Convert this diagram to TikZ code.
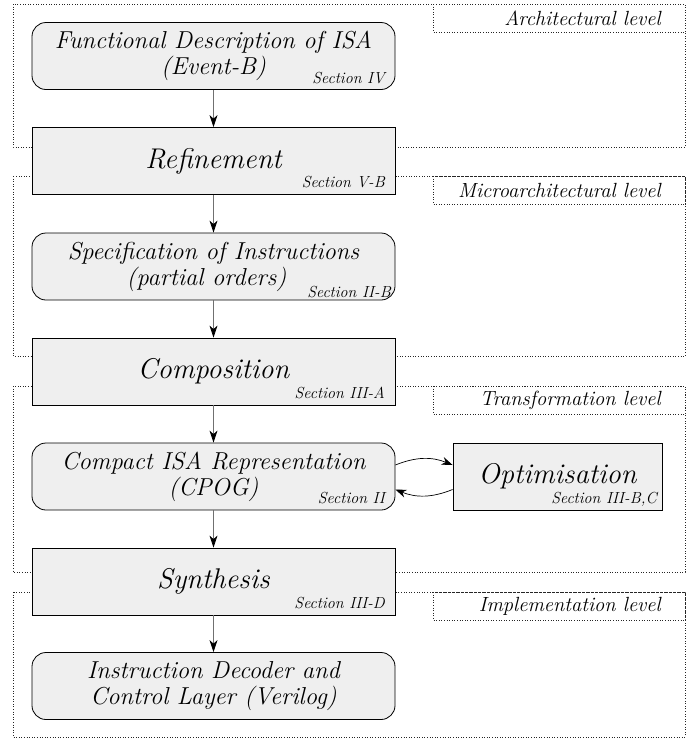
\documentclass[tikz,border=0pt]{standalone}
\usetikzlibrary{arrows.meta}
\definecolor{boxgray}{HTML}{EFEFEF}
\definecolor{flowgray}{HTML}{707070}
\begin{document}
\begin{tikzpicture}[x=1pt,y=-1pt,
  stage/.style={draw=black, fill=boxgray, line width=0.8pt,
    minimum width=363pt, minimum height=67pt, inner sep=0pt,
    align=center, font=\fontsize{24.5}{26}\selectfont\itshape},
  rstage/.style={stage, rounded corners=14pt},
  bigstage/.style={stage, font=\fontsize{28.5}{30}\selectfont\itshape},
  sec/.style={anchor=base east, inner sep=0pt,
    font=\fontsize{16}{18}\selectfont\itshape},
  frame/.style={draw=black!85, dotted, line width=0.6pt},
  lvl/.style={anchor=east, inner sep=0pt,
    font=\fontsize{20.5}{23}\selectfont\itshape},
  flow/.style={draw=flowgray, line width=0.9pt,
    -{Stealth[length=12pt,width=8pt,inset=3.5pt,color=black]}},
  cycle/.style={draw=black, line width=0.7pt,
    -{Stealth[length=11pt,width=8pt,inset=3.5pt]}}]
\useasboundingbox (0,0) rectangle (697,740);

% dotted level frames with their caption boxes
\draw[frame] (13,4) rectangle (685,147);
\draw[frame] (13,176) rectangle (685,356);
\draw[frame] (13,386) rectangle (685,572);
\draw[frame] (13,592) rectangle (685,737);
\draw[frame] (433,4) rectangle (685,32);
\draw[frame] (433,176) rectangle (685,204);
\draw[frame] (433,386) rectangle (685,414);
\draw[frame] (433,592) rectangle (685,620);
\node[lvl] (archlvl)  at (661,18)  {Architectural level};
\node[lvl] (microlvl) at (661,190) {Microarchitectural level};
\node[lvl] (translvl) at (661,400) {Transformation level};
\node[lvl] (impllvl)  at (661,606) {Implementation level};

% design flow stages
\node[rstage] (func) at (213.5,56)
  {Functional Description of ISA\\(Event-B)};
\node[bigstage] (refine) at (213.5,161) {Refinement};
\node[rstage] (spec) at (213.5,266.5)
  {Specification of Instructions\\(partial orders)\hspace*{14pt}};
\node[bigstage] (compose) at (213.5,371.5) {Composition};
\node[rstage] (cpog) at (213.5,476.5)
  {Compact ISA Representation\\(CPOG)};
\node[bigstage, minimum width=209pt] (opt) at (557.5,476.5) {Optimisation};
\node[bigstage] (synth) at (213.5,581.5) {Synthesis};
\node[rstage] (decoder) at (213.5,686)
  {Instruction Decoder and\\Control Layer (Verilog)};

% section references
\node[sec] (secfunc)    at (385,83)  {Section IV};
\node[sec] (secrefine)  at (385,187) {Section V-B};
\node[sec] (secspec)    at (391,297) {Section II-B};
\node[sec] (seccompose) at (385,398) {Section III-A};
\node[sec] (seccpog)    at (385,503) {Section II};
\node[sec] (secopt)     at (657,503) {Section III-B,C};
\node[sec] (secsynth)   at (385,608) {Section III-D};

% connectors
\draw[flow] (func) -- (refine);
\draw[flow] (refine) -- (spec);
\draw[flow] (spec) -- (compose);
\draw[flow] (compose) -- (cpog);
\draw[flow] (cpog) -- (synth);
\draw[flow] (synth) -- (decoder);
\draw[cycle] ([yshift=11.5pt]cpog.east) to[bend left=22] ([yshift=11.5pt]opt.west);
\draw[cycle] ([yshift=-13pt]opt.west) to[bend left=22] ([yshift=-13pt]cpog.east);
\end{tikzpicture}
\end{document}
